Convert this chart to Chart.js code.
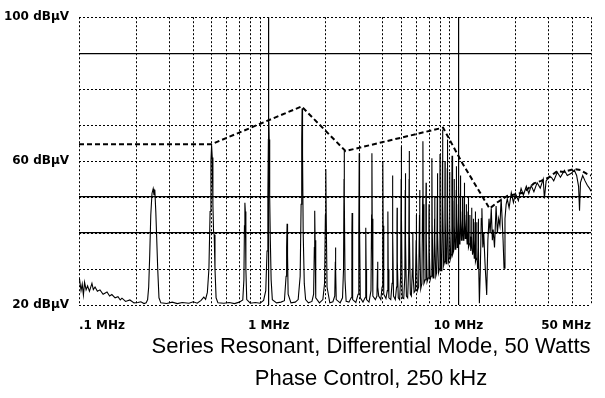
<!DOCTYPE html>
<html><head><meta charset="utf-8">
<script src="https://cdn.jsdelivr.net/npm/chart.js@4.4.1/dist/chart.umd.min.js"></script>
<style>html,body{margin:0;padding:0;background:#fff;}</style>
</head><body>
<canvas id="c" width="605" height="398"></canvas>
<script>
// ---------- data ----------
const titleLines = ["Series Resonant, Differential Mode, 50 Watts", "Phase Control, 250 kHz"];
const xGridMHz = [0.1,0.2,0.3,0.4,0.5,0.6,0.7,0.8,0.9,1,2,3,4,5,6,7,8,9,10,20,30,40,50];
const xMajorMHz = [1, 10];
const xLabelValues = [0.1, 1, 10, 50];
const xLabelTexts = [".1 MHz", "1 MHz", "10 MHz", "50 MHz"];
const yGridDb = [20,30,40,50,60,70,80,90,100];
const yMajorDb = [40, 50, 90];
const yLabelValues = [20, 60, 100];
const yLabelTexts = ["20 dBμV", "60 dBμV", "100 dBμV"];

// measured spectrum trace (MHz, dBμV)
const traceMHz = [
 0.1005,0.1025,0.104,0.1055,0.107,0.109,0.111,0.1135,0.117,0.119,0.1215,0.125,0.129,0.134,0.1405,0.145,0.149,0.155,0.1605,0.165,0.1685,0.176,0.1855,0.195,0.2045,0.212,0.22,0.226,
 0.230,0.233,0.236,0.239,0.2425,0.246,0.2485,0.251,0.254,0.257,0.260,0.264,0.270,
 0.29,0.31,0.33,0.35,0.38,0.40,0.42,0.44,0.455,0.465,
 0.475,0.484,0.491,0.496,0.500,0.504,0.508,0.512,0.516,0.521,0.528,0.54,
 0.58,0.62,0.66,0.70,0.73,
 0.740,0.745,0.749,0.753,0.758,0.766,
 0.80,0.85,0.90,0.94,
 0.965,0.980,0.990,0.996,1.0,1.005,1.012,1.02,1.03,1.045,
 1.10,1.16,1.21,
 1.235,1.243,1.25,1.257,1.266,
 1.31,1.38,1.43,
 1.465,1.482,1.493,1.50,1.508,1.52,1.54,1.565,
 1.62,1.69,1.725,
 1.740,1.748,1.756,1.77,
 1.85,1.93,1.97,
 1.99,2.0,2.01,2.03,
 2.1,2.18,2.23,
 2.245,2.25,2.256,2.27,
 2.38,2.45,2.48,
 2.495,2.5,2.507,2.525,2.56,
 2.65,2.72,
 2.745,2.752,2.76,2.78,
 2.88,2.96,2.985,
 3.0,3.012,3.04,
 3.14,3.22,
 3.245,3.252,3.262,3.28,
 3.38,3.46,3.487,
 3.5,3.512,3.54,
 3.65,3.72,
 3.745,3.752,3.762,3.8,
 3.9,3.96,
 3.99,4.0,4.012,4.04,
 4.15,4.22,
 4.245,4.252,4.265,4.3,
 4.4,4.47,
 4.495,4.5,4.512,4.55,
 4.65,4.72,
 4.745,4.752,4.765,4.82,
 4.9,4.96,
 4.99,5.0,5.015,5.06,
 5.15,5.22,
 5.245,5.255,5.27,5.32,
 5.4,5.47,
 5.495,5.505,5.52,5.58,
 5.65,5.72,
 5.745,5.755,5.775,5.84,
 5.93,5.985,
 6.0,6.015,6.08,
 6.17,6.235,
 6.25,6.265,6.33,
 6.42,6.48,
 6.5,6.515,6.58,
 6.68,6.74,
 6.755,6.775,6.84,
 6.93,6.99,
 7.0,7.02,7.1,
 7.18,7.24,
 7.255,7.275,7.35,
 7.43,7.49,
 7.5,7.52,7.6,
 7.68,7.74,
 7.755,7.775,7.86,
 7.94,7.99,
 8.0,8.02,8.1,
 8.18,8.24,
 8.255,8.275,8.36,
 8.44,8.49,
 8.5,8.52,8.61,
 8.69,8.74,
 8.755,8.775,8.86,
 8.94,8.99,
 9.0,9.02,9.11,
 9.19,9.24,
 9.255,9.275,9.36,
 9.44,9.49,
 9.5,9.52,9.61,
 9.69,9.74,
 9.755,9.775,9.86,
 9.94,9.99,
 10.0,10.02,10.11,
 10.19,10.24,
 10.255,10.28,10.37,
 10.44,10.49,
 10.505,10.53,10.62,
 10.69,10.74,
 10.755,10.78,10.87,
 10.94,10.99,
 11.005,11.03,11.12,
 11.19,11.24,
 11.255,11.28,11.37,
 11.44,11.49,
 11.505,11.53,11.62,
 11.69,11.74,
 11.755,11.78,11.87,
 11.94,11.99,
 12.005,12.03,12.12,
 12.19,12.24,
 12.255,12.28,12.37,
 12.44,12.49,
 12.505,12.53,12.62,
 12.69,12.74,
 12.755,12.78,12.9,
 13.05,13.2,13.3,13.45,13.6,13.8,14.1,14.3,14.5,14.7,14.9,15.1,15.25,15.5,15.8,16.05,16.3,16.55,16.8,17.0,17.2,17.4,17.6,17.85,18.1,18.5,19.0,19.5,20.0,20.7,21.4,22.0,22.8,23.5,24.2,25.0,26.0,27.0,28.0,28.4,29.0,30.0,30.9,31.8,33.2,34.5,36.2,37.5,39.4,40.8,42.0,43.0,43.5,44.0,45.2,46.5,47.8,49.0,50.0
];
const traceDb = [
 27.4,24.0,25.8,22.8,26.3,24.2,25.3,23.8,26.0,24.3,25.0,23.8,24.2,23.0,23.6,22.5,22.9,22.0,22.3,21.4,21.9,21.0,21.4,20.6,20.7,20.9,20.4,20.6,
 21.5,25,34,45,51,52.3,50.5,52.0,46,38,30,22,20.6,
 20.4,20.8,20.4,20.7,20.5,20.9,20.5,21.3,22.2,21.6,
 23.5,30,46,60,64.4,61,48,40.5,39.5,30,22,20.6,
 20.5,20.7,20.4,20.8,21.4,
 27,42,48.4,46,30,21.5,
 20.5,20.7,20.5,21.3,
 24,35,50,66,71,66,50,38,27,21.5,
 20.6,20.8,21.2,
 28,36,42.6,34,23,
 20.6,20.8,21.5,
 28,48,66,74.6,62,40,26,21.5,
 20.6,21,23,
 36,46.2,38,22,
 20.6,21.5,26,
 45,57.8,45,25,
 20.6,20.9,22.5,
 32,36,30,21.5,
 20.6,22,30,
 55,62.8,50,27,21,
 20.8,22,
 40,45.6,36,21.5,
 20.7,23,40,
 62.2,42,22,
 20.8,22,
 38,41.5,30,21.5,
 20.8,24,45,
 62.2,44,22.5,
 21.5,22.5,
 30,32,25,22.5,
 21.5,25,
 50,60,42,23,
 21.8,24,
 42,46,30,22,
 21.5,26,
 50,56,40,22.5,
 21.5,25,
 43,47,32,22,
 21.5,28,
 55,64,45,22,
 21.8,28,
 52,56.6,38,22.5,
 22,30,
 55,62.8,40,23,
 22.5,30,
 37,40,28,23.5,
 24,38,
 45,35,24,
 25,45,
 52,38,24.5,
 26,50,
 65.5,48,26,
 27,48,
 54,38,26.5,
 27.5,42,
 48,35,27,
 28,50,
 60.8,42,27.5,
 28.5,44,
 50,38,28,
 29,50,
 56.6,40,29,
 30,54,
 62,44,29.5,
 31,60,
 68.8,48,31,
 32,52,
 60,44,31.5,
 32,58,
 66,46,32,
 33,50,
 57,42,33,
 34,54,
 61.5,44,34,
 35,49,
 55,42,35.5,
 36,52,
 58.6,45,36,
 37,48,
 53,43,37,
 38,51,
 56,44,38,
 38.5,46,
 50,42,38,
 39,50,
 54,44,38.5,
 39,45,
 48,41,37,
 38,46,
 50,42,36,
 37,42,
 45,39,35,
 36,44,
 47,40,34,
 35,41,
 44,38,33,
 34,43,
 46,38,32,
 33,40,
 43,36,30,
 32,41,
 44,35,20.5,
 30,44,46.9,36,40,32,22.8,38,44,40,46.9,38,41,36,47.5,40,44,42,49.6,44,38,30.2,44,48,49.5,47,51.2,48.5,51,49,52.4,50.5,53,51,53.2,51.5,54,52.5,55,49.6,54.5,55.5,55.5,54.5,56.9,55.5,57.4,56,56.6,57.5,56,53,46.2,54,56,54.5,53.3,52.5,51.6
];

// dashed envelope (MHz, dBμV)
const envMHz = [0.1, 0.5, 1.49, 2.54, 8.3, 10.5, 14.6, 16, 18.1, 20, 22, 25, 27.3, 30, 33.2, 36, 40.8, 44, 47.8, 50];
const envDb  = [64.7, 64.7, 75.2, 62.8, 69.3, 59.4, 46.8, 48.5, 50.3, 50.8, 51.2, 53.8, 54.5, 55.5, 57.2, 57, 57.8, 57.5, 56.4, 56];

// ---------- chart ----------
const near = (a, b) => Math.abs(a - b) < 1e-6 * Math.max(1, Math.abs(b));
const xLabel = v => { const i = xLabelValues.findIndex(t => near(v, t)); return i < 0 ? '' : xLabelTexts[i]; };
const yLabel = v => { const i = yLabelValues.findIndex(t => near(v, t)); return i < 0 ? '' : yLabelTexts[i]; };
const axisFont = {family: '"DejaVu Sans", sans-serif', size: 12, weight: 'bold'};
const dotted = [2, 2];

const bottomTitle = {
  id: 'bottomTitle',
  beforeDraw(chart) {
    const c = chart.ctx; c.save(); c.fillStyle = '#fff'; c.fillRect(0, 0, chart.width, chart.height); c.restore();
  },
  afterDraw(chart) {
    const c = chart.ctx; c.save();
    c.fillStyle = '#000';
    c.font = '22px "Liberation Sans", Arial, sans-serif';
    c.textAlign = 'center'; c.textBaseline = 'alphabetic';
    c.fillText(titleLines[0], 371, 353);
    c.fillText(titleLines[1], 371, 385);
    c.restore();
  }
};

new Chart(document.getElementById('c'), {
  type: 'line',
  data: {
    datasets: [
      {
        label: 'Envelope',
        data: envMHz.map((f, i) => ({x: f, y: envDb[i]})),
        borderColor: '#000', borderWidth: 2, borderDash: [5, 3],
        pointRadius: 0, tension: 0, fill: false, xAxisID: 'x', yAxisID: 'y'
      },
      {
        label: 'Spectrum',
        data: traceMHz.map((f, i) => ({x: f, y: traceDb[i]})),
        borderColor: '#000', borderWidth: 1.1,
        pointRadius: 0, tension: 0, fill: false, xAxisID: 'x', yAxisID: 'y'
      }
    ]
  },
  options: {
    responsive: false, animation: false, devicePixelRatio: 1,
    layout: {padding: {left: 0, right: 10, top: 15, bottom: 63}},
    plugins: {legend: {display: false}, tooltip: {enabled: false}, title: {display: false}},
    scales: {
      x: {
        type: 'logarithmic', min: 0.1, max: 50, position: 'bottom',
        afterBuildTicks: s => { s.ticks = xGridMHz.map(v => ({value: v})); },
        afterFit: s => { s.height = 30; },
        ticks: {autoSkip: false, maxRotation: 0, minRotation: 0, align: 'inner', padding: 14,
                color: '#000', font: axisFont, callback: v => xLabel(v)},
        grid: {color: '#000', lineWidth: 1, drawTicks: false},
        border: {display: false, dash: dotted}
      },
      x2: {
        type: 'logarithmic', min: 0.1, max: 50, position: 'top',
        afterBuildTicks: s => { s.ticks = xMajorMHz.map(v => ({value: v})); },
        afterFit: s => { s.height = 0; },
        ticks: {display: false},
        grid: {color: '#000', lineWidth: 1.2, drawTicks: false},
        border: {display: false}
      },
      y: {
        type: 'linear', min: 20, max: 100, position: 'left',
        afterBuildTicks: s => { s.ticks = yGridDb.map(v => ({value: v})); },
        afterFit: s => { s.width = 79; },
        ticks: {autoSkip: false, padding: 10, color: '#000', font: axisFont, callback: v => yLabel(v)},
        grid: {color: '#000', lineWidth: 1, drawTicks: false},
        border: {display: false, dash: dotted}
      },
      y2: {
        type: 'linear', min: 20, max: 100, position: 'right',
        afterBuildTicks: s => { s.ticks = yMajorDb.map(v => ({value: v})); },
        afterFit: s => { s.width = 0; },
        ticks: {display: false},
        grid: {color: '#000', lineWidth: 1.2, drawTicks: false},
        border: {display: false}
      }
    }
  },
  plugins: [bottomTitle]
});
</script>
</body></html>
